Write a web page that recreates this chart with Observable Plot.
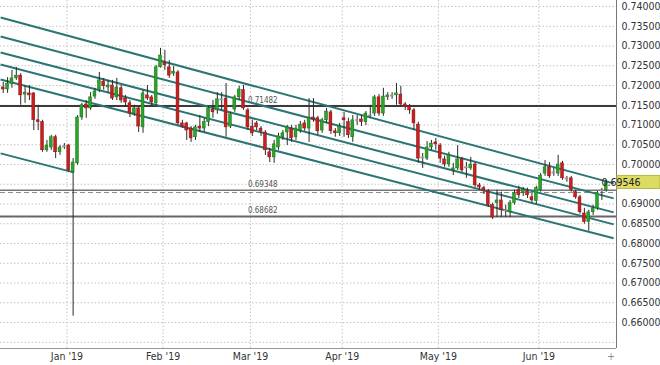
<!DOCTYPE html>
<html><head><meta charset="utf-8">
<script src="https://cdn.jsdelivr.net/npm/d3@7"></script>
<script src="https://cdn.jsdelivr.net/npm/@observablehq/plot@0.6"></script>
<style>
body{margin:0;background:#fff;}
#chart svg{display:block;}
</style></head><body><div id="chart"></div>
<script>
// ---- data ----
const firstDay = "2018-12-10";
const holidays = ["2018-12-25", "2019-01-01"];
const opens = [
0.7195,0.7190,0.7203,0.7218,0.7225,0.7177,0.7180,0.7180,0.7112,0.7107,
0.7036,0.7043,0.7069,0.7031,0.7043,0.7048,0.6980,0.7003,0.7119,0.7152,
0.7142,0.7172,0.7188,0.7210,0.7195,0.7200,0.7170,0.7193,0.7167,0.7155,
0.7129,0.7142,0.7094,0.7175,0.7170,0.7155,0.7246,0.7258,0.7246,0.7230,
0.7233,0.7104,0.7104,0.7091,0.7069,0.7096,0.7091,0.7107,0.7139,0.7137,
0.7162,0.7167,0.7096,0.7139,0.7170,0.7188,0.7137,0.7096,0.7104,0.7091,
0.7081,0.7031,0.7018,0.7043,0.7069,0.7081,0.7091,0.7069,0.7086,0.7104,
0.7091,0.7119,0.7117,0.7086,0.7112,0.7132,0.7084,0.7079,0.7117,0.7107,
0.7069,0.7110,0.7114,0.7107,0.7122,0.7129,0.7170,0.7129,0.7170,0.7172,
0.7175,0.7177,0.7152,0.7147,0.7137,0.7101,0.7015,0.7015,0.7043,0.7056,
0.7048,0.7013,0.7000,0.6985,0.6990,0.7013,0.6990,0.6990,0.7000,0.6947,
0.6940,0.6932,0.6897,0.6902,0.6909,0.6881,0.6879,0.6902,0.6935,0.6927,
0.6932,0.6917,0.6907,0.6935,0.6977,0.6993,0.6977,0.6977,0.7003,0.6962,
0.6965,0.6930,0.6917,0.6876,0.6854,0.6879,0.6889,0.6932,0.6935];
const highs = [
0.7208,0.7220,0.7238,0.7246,0.7230,0.7200,0.7200,0.7182,0.7150,0.7112,
0.7061,0.7074,0.7074,0.7048,0.7053,0.7051,0.7015,0.7124,0.7155,0.7162,
0.7182,0.7193,0.7233,0.7218,0.7213,0.7213,0.7218,0.7200,0.7175,0.7162,
0.7150,0.7147,0.7188,0.7200,0.7175,0.7251,0.7294,0.7289,0.7263,0.7248,
0.7238,0.7112,0.7107,0.7096,0.7099,0.7124,0.7117,0.7147,0.7162,0.7182,
0.7182,0.7205,0.7132,0.7175,0.7198,0.7200,0.7142,0.7112,0.7109,0.7096,
0.7086,0.7041,0.7061,0.7079,0.7086,0.7099,0.7099,0.7099,0.7109,0.7112,
0.7167,0.7167,0.7122,0.7117,0.7142,0.7137,0.7091,0.7104,0.7132,0.7117,
0.7124,0.7124,0.7124,0.7134,0.7150,0.7175,0.7177,0.7193,0.7182,0.7182,
0.7205,0.7198,0.7157,0.7152,0.7142,0.7107,0.7028,0.7058,0.7061,0.7066,
0.7053,0.7021,0.7031,0.7003,0.7048,0.7018,0.7005,0.7018,0.7005,0.6952,
0.6945,0.6937,0.6902,0.6935,0.6930,0.6897,0.6909,0.6935,0.6945,0.6942,
0.6940,0.6927,0.6945,0.6977,0.7010,0.7005,0.6990,0.7023,0.7008,0.6970,
0.6970,0.6935,0.6922,0.6889,0.6884,0.6897,0.6932,0.6940,0.6960];
const lows = [
0.7180,0.7180,0.7193,0.7213,0.7150,0.7155,0.7162,0.7086,0.7086,0.7031,
0.7031,0.7036,0.7015,0.7023,0.7038,0.6980,0.6616,0.6998,0.7112,0.7117,
0.7137,0.7165,0.7182,0.7188,0.7182,0.7162,0.7162,0.7155,0.7145,0.7119,
0.7122,0.7081,0.7079,0.7162,0.7147,0.7147,0.7244,0.7238,0.7218,0.7223,
0.7099,0.7091,0.7061,0.7056,0.7061,0.7081,0.7081,0.7096,0.7117,0.7127,
0.7137,0.7069,0.7091,0.7132,0.7162,0.7137,0.7086,0.7071,0.7086,0.7071,
0.7023,0.7005,0.7003,0.7036,0.7061,0.7048,0.7056,0.7061,0.7079,0.7084,
0.7056,0.7107,0.7074,0.7079,0.7104,0.7076,0.7069,0.7071,0.7069,0.7066,
0.7056,0.7099,0.7096,0.7099,0.7117,0.7122,0.7122,0.7122,0.7162,0.7165,
0.7150,0.7147,0.7137,0.7127,0.7086,0.7003,0.6990,0.7010,0.7036,0.7036,
0.7003,0.6993,0.6993,0.6972,0.6985,0.6980,0.6965,0.6985,0.6942,0.6935,
0.6924,0.6892,0.6861,0.6866,0.6866,0.6866,0.6866,0.6897,0.6914,0.6919,
0.6914,0.6902,0.6899,0.6930,0.6970,0.6965,0.6970,0.6970,0.6960,0.6955,
0.6930,0.6912,0.6874,0.6849,0.6831,0.6871,0.6884,0.6909,0.6930];
const closes = [
0.7190,0.7205,0.7218,0.7225,0.7175,0.7182,0.7175,0.7112,0.7107,0.7036,
0.7048,0.7069,0.7031,0.7043,0.7046,0.6985,0.7005,0.7119,0.7150,0.7142,
0.7170,0.7185,0.7213,0.7198,0.7200,0.7167,0.7195,0.7162,0.7157,0.7129,
0.7142,0.7096,0.7180,0.7167,0.7157,0.7246,0.7276,0.7251,0.7225,0.7235,
0.7104,0.7096,0.7086,0.7066,0.7094,0.7091,0.7107,0.7142,0.7132,0.7165,
0.7165,0.7094,0.7127,0.7170,0.7190,0.7142,0.7094,0.7079,0.7094,0.7084,
0.7036,0.7018,0.7051,0.7071,0.7079,0.7094,0.7066,0.7091,0.7101,0.7091,
0.7117,0.7114,0.7084,0.7112,0.7134,0.7084,0.7079,0.7096,0.7112,0.7074,
0.7112,0.7112,0.7107,0.7129,0.7124,0.7170,0.7129,0.7172,0.7175,0.7175,
0.7180,0.7152,0.7145,0.7137,0.7104,0.7015,0.7018,0.7043,0.7053,0.7051,
0.7015,0.7000,0.7023,0.6990,0.7013,0.6985,0.6993,0.7000,0.6947,0.6942,
0.6932,0.6897,0.6866,0.6909,0.6884,0.6884,0.6902,0.6927,0.6922,0.6935,
0.6922,0.6909,0.6940,0.6972,0.6993,0.6970,0.6980,0.7000,0.6965,0.6965,
0.6935,0.6917,0.6879,0.6854,0.6879,0.6889,0.6927,0.6935,0.69546];

// y tick labels shown (0.69500 sits under the price badge and is not visible)
const yTicks = [0.66,0.665,0.67,0.675,0.68,0.685,0.69,0.70,0.705,0.71,0.715,0.72,0.725,0.73,0.735,0.74];
const yGrid = [0.655,0.66,0.665,0.67,0.675,0.68,0.685,0.69,0.695,0.70,0.705,0.71,0.715,0.72,0.725,0.73,0.735,0.74];
const levelValues = [0.71482, 0.69348, 0.68682];
const levelLabels = ["0.71482", "0.69348", "0.68682"];
const dashedLevel = 0.6929;
const lastPrice = 0.69546;
// channel lines: start / end (index, price)
const chStartIdx = [-0.6, -0.6, -0.6, -0.6, -0.6, -0.6];
const chStartVal = [0.73722, 0.73241, 0.72836, 0.72533, 0.72153, 0.70281];
const chEndIdx   = [139.7, 139.7, 139.7, 139.7, 139.7, 16.1];
const chEndVal   = [0.69522, 0.69143, 0.68788, 0.68485, 0.68131, 0.69800];

// ---- build tables ----
const skip = new Set(holidays);
const dates = [];
for (let d = new Date(firstDay + "T00:00:00Z"); dates.length < opens.length; d = d3.utcDay.offset(d, 1)) {
  const wd = d.getUTCDay();
  const key = d3.utcFormat("%Y-%m-%d")(d);
  if (wd !== 0 && wd !== 6 && !skip.has(key)) dates.push(new Date(d));
}
const candles = opens.map((o, i) => ({i, date: dates[i], open: o, high: highs[i], low: lows[i], close: closes[i]}));
const months = [];
for (let i = 1; i < dates.length; i++) {
  if (dates[i].getUTCMonth() !== dates[i-1].getUTCMonth()) months.push({pos: i - 0.42, label: d3.utcFormat("%b '%y")(dates[i])});
}
const channels = chStartIdx.map((s, k) => ({x1: s, y1: chStartVal[k], x2: chEndIdx[k], y2: chEndVal[k]}));
const levels = levelValues.map((v, k) => ({v, label: levelLabels[k]}));

const W = 660, H = 365, mR = 44, mB = 17;
const xDom = [-0.62, 140.35], yDom = [0.65342, 0.74152];
const font = "'DejaVu Sans Condensed', 'DejaVu Sans', sans-serif";
const bodyColor = d => Math.abs(d.close - d.open) < 0.00035 ? "#a8a8a8" : (d.close > d.open ? "#2aa52a" : "#c8201f");
const edgeColor = d => Math.abs(d.close - d.open) < 0.00035 ? "#888" : (d.close > d.open ? "#1a701a" : "#8a1414");

const chart = Plot.plot({
  width: W, height: H,
  marginLeft: 0, marginRight: mR, marginTop: 0, marginBottom: mB,
  x: {type: "linear", domain: xDom, axis: null},
  y: {domain: yDom, axis: null},
  style: {fontFamily: font, fontSize: "10px", color: "#333", background: "#fff", overflow: "visible"},
  marks: [
    Plot.ruleY(yGrid, {stroke: "#c4c4c4", strokeDasharray: "1.5,2"}),
    Plot.ruleX(months, {x: "pos", stroke: "#c4c4c4", strokeDasharray: "1.5,2"}),
    Plot.ruleY([dashedLevel], {stroke: "#8a8a8a", strokeDasharray: "5,3", strokeWidth: 1}),
    Plot.ruleY(levels, {y: "v", stroke: d => d.v > 0.7 ? "#3a3a3a" : (d.v > 0.69 ? "#777" : "#666"), strokeWidth: d => d.v > 0.69 && d.v < 0.7 ? 1.5 : 2}),
    Plot.text(levels, {x: 56, y: "v", text: "label", textAnchor: "start", dy: -6, fontSize: 8, fill: "#555"}),
    Plot.link(channels, {x1: "x1", y1: "y1", x2: "x2", y2: "y2", stroke: "#2b7674", strokeWidth: 2}),
    Plot.ruleX(candles, {x: "i", y1: "low", y2: "high", stroke: "#2a2a2a", strokeWidth: 1}),
    Plot.rect(candles, {x1: d => d.i - 0.33, x2: d => d.i + 0.33, y1: "open", y2: "close", fill: bodyColor, stroke: edgeColor, strokeWidth: 0.5}),
    Plot.ruleX([xDom[1]], {stroke: "#777"}),
    Plot.ruleY([yDom[0]], {stroke: "#999"}),
    Plot.axisY({anchor: "right", ticks: yTicks, tickFormat: d3.format(".5f"), tickSize: 0, tickPadding: 5, fill: "#333", fontSize: 10.5}),
    Plot.axisX({ticks: months.map(m => m.pos), tickFormat: (d, k) => months[k].label, tickSize: 0, tickPadding: 4, fill: "#333", fontSize: 10.5})
  ]
});

// current price badge, positioned with the chart's own y scale
const ys = chart.scale("y");
const svg = d3.select(chart);
const py = ys.apply(lastPrice);
const x0 = W - mR + 1;
svg.append("rect").attr("x", x0).attr("y", py - 6.5).attr("width", W - x0).attr("height", 13)
  .attr("fill", "#dcdc62").attr("stroke", "#b8b845");
svg.append("text").attr("x", x0 + 4).attr("y", py).attr("dy", "0.35em")
  .attr("font-family", font).attr("font-size", 10.5).attr("fill", "#222").text(d3.format(".5f")(lastPrice));
svg.append("text").attr("x", W - mR - 5).attr("y", H - mB + 12).attr("text-anchor", "middle")
  .attr("font-family", font).attr("font-size", 10).attr("fill", "#888").text("+");

document.getElementById("chart").appendChild(chart);
</script>
</body></html>
